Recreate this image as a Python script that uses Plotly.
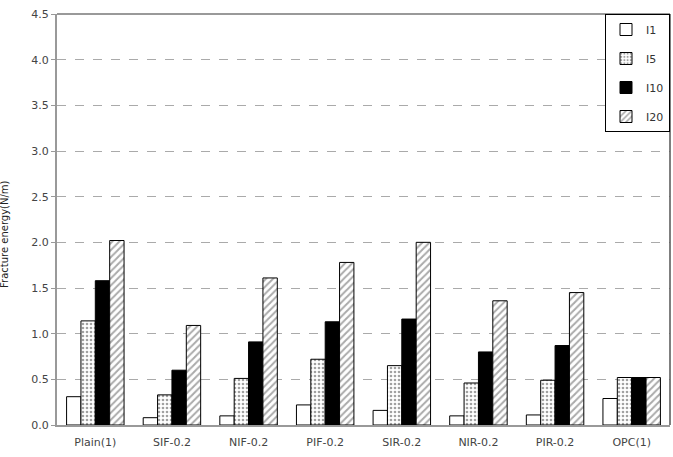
import plotly.graph_objects as go

categories = ["Plain(1)", "SIF-0.2", "NIF-0.2", "PIF-0.2", "SIR-0.2", "NIR-0.2", "PIR-0.2", "OPC(1)"]
I1 = [0.31, 0.08, 0.10, 0.22, 0.16, 0.10, 0.11, 0.29]
I5 = [1.14, 0.33, 0.51, 0.72, 0.65, 0.46, 0.49, 0.52]
I10 = [1.58, 0.60, 0.91, 1.13, 1.16, 0.80, 0.87, 0.52]
I20 = [2.02, 1.09, 1.61, 1.78, 2.00, 1.36, 1.45, 0.52]
y_ticks = [0.0, 0.5, 1.0, 1.5, 2.0, 2.5, 3.0, 3.5, 4.0, 4.5]

series = [
    ("I1", I1, dict(color="white", pattern=dict(shape=""))),
    ("I5", I5, dict(color="white", pattern=dict(shape=".", fgcolor="#444", bgcolor="white", size=4, solidity=0.35))),
    ("I10", I10, dict(color="black", pattern=dict(shape=""))),
    ("I20", I20, dict(color="white", pattern=dict(shape="/", fgcolor="#555", bgcolor="white", size=5, solidity=0.4))),
]

fig = go.Figure()
for i, (name, vals, mk) in enumerate(series):
    fig.add_trace(go.Bar(
        x=categories, y=vals, name=name, legendgroup=f"g{i}",
        marker=dict(**mk, line=dict(color="black", width=1)),
    ))

W, H = 673, 457
L, R, T, B = 57, 3, 14, 32
pw = W - L - R
ph = H - T - B

fig.update_layout(
    width=W, height=H,
    margin=dict(l=L, r=R, t=T, b=B, autoexpand=False),
    paper_bgcolor="white", plot_bgcolor="white",
    barmode="group", bargap=0.25, bargroupgap=0,
    font=dict(family="DejaVu Sans", size=11, color="#444"),
    showlegend=True,
    legend=dict(
        x=1.0, y=1.0, xanchor="right", yanchor="top",
        bgcolor="white", bordercolor="black", borderwidth=1,
        traceorder="grouped", tracegroupgap=10, itemwidth=30,
        font=dict(size=11, color="#333"),
    ),
    xaxis=dict(
        showline=True, linecolor="#999", linewidth=2, mirror=False,
        ticks="outside", ticklen=6, tickcolor="rgba(0,0,0,0)",
        tickfont=dict(size=11, color="#444"),
    ),
    yaxis=dict(
        range=[0, 4.5], tickvals=y_ticks, ticktext=[f"{v:.1f}" for v in y_ticks],
        showgrid=True, gridcolor="#aaa", griddash="dash", gridwidth=1,
        showline=True, linecolor="#999", linewidth=2,
        ticks="outside", ticklen=4, tickcolor="#999",
        tickfont=dict(size=11, color="#444"), zeroline=False,
    ),
    shapes=[
        dict(type="line", xref="paper", yref="paper", x0=0, x1=1, y0=1, y1=1,
             line=dict(color="#999", width=2)),
        dict(type="line", xref="paper", yref="paper", x0=1, x1=1, y0=0, y1=1,
             line=dict(color="#555", width=1.5)),
    ],
    annotations=[
        dict(text="Fracture energy(N/m)", xref="paper", yref="paper",
             x=(4 - L) / pw, y=(425 - 234) / ph, textangle=-90,
             showarrow=False, xanchor="center", yanchor="middle",
             font=dict(size=10, color="#222")),
    ],
)

fig.write_html("out.html")
